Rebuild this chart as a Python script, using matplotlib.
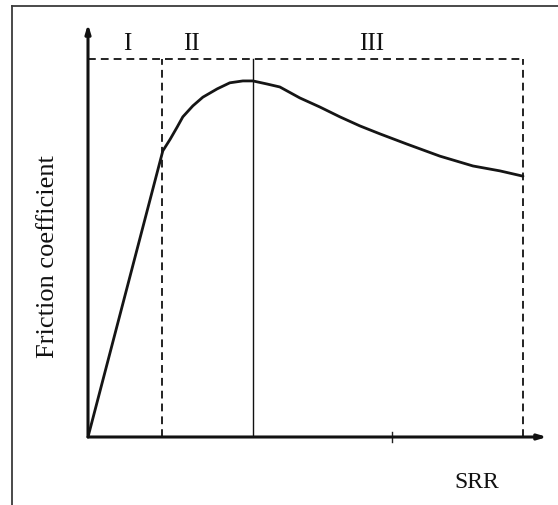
import matplotlib
matplotlib.use("Agg")
import matplotlib.pyplot as plt
from matplotlib.lines import Line2D

# Curve readings (SRR normalised 0..1, friction normalised to top dashed line = 1)
srr = [0.0, 0.172, 0.189, 0.205, 0.218, 0.241, 0.264, 0.297, 0.326, 0.356, 0.379,
       0.411, 0.441, 0.487, 0.533, 0.579, 0.625, 0.671, 0.733, 0.809, 0.885, 0.947, 1.0]
friction = [0.0, 0.757, 0.788, 0.820, 0.847, 0.876, 0.899, 0.921, 0.937, 0.942, 0.942,
            0.934, 0.926, 0.897, 0.873, 0.847, 0.823, 0.802, 0.775, 0.743, 0.717, 0.704, 0.690]

region_bounds = [0.170, 0.379, 1.0]   # I/II dashed, II/III solid, right dashed
region_labels = ["I", "II", "III"]
label_x = [0.090, 0.239, 0.653]
box_top = 1.0
x_tick = [0.699]

W, H = 558, 506
fig = plt.figure(figsize=(W / 100, H / 100), dpi=100)
fig.patch.set_facecolor("white")

# outer frame (open at right/bottom)
fig.add_artist(Line2D([12 / W, 12 / W], [1 - 7 / H, 0], transform=fig.transFigure,
                      color="#3a3a3a", lw=1.3))
fig.add_artist(Line2D([12 / W, 1], [1 - 7 / H, 1 - 7 / H], transform=fig.transFigure,
                      color="#3a3a3a", lw=1.3))

ax = fig.add_axes([88 / W, (H - 438) / H, (547 - 88) / W, (438 - 25) / H])
ax.set_xlim(0, 459 / 435)
ax.set_ylim(0, 413 / 378)
for s in ax.spines.values():
    s.set_visible(False)
ax.set_xticks([])
ax.set_yticks([])
ax.patch.set_alpha(0)

# axes with arrows
ax.annotate("", xy=(0, 413 / 378), xytext=(0, 0),
            arrowprops=dict(arrowstyle="-|>,head_length=0.5,head_width=0.15",
                            color="#111111", lw=2.2, shrinkA=0, shrinkB=0))
ax.annotate("", xy=(459 / 435, 0), xytext=(0, 0),
            arrowprops=dict(arrowstyle="-|>,head_length=0.5,head_width=0.15",
                            color="#111111", lw=2.2, shrinkA=0, shrinkB=0))

# tick mark on x-axis
for t in x_tick:
    ax.plot([t, t], [-0.012, 0.012], color="#222222", lw=1.0, clip_on=False)

dash = (0, (4, 2.6))
# dashed box
ax.plot([0, region_bounds[2]], [box_top, box_top], color="#222222", lw=1.4, linestyle=dash)
ax.plot([region_bounds[0], region_bounds[0]], [0, box_top], color="#222222", lw=1.4, linestyle=dash)
ax.plot([region_bounds[2], region_bounds[2]], [0, box_top], color="#222222", lw=1.4, linestyle=dash)
# solid boundary
ax.plot([region_bounds[1], region_bounds[1]], [0, box_top], color="#111111", lw=1.0)

# curve
ax.plot(srr, friction, color="#151515", lw=2.0, solid_capstyle="round", solid_joinstyle="round")

serif = ["Liberation Serif", "DejaVu Serif"]
for lx, lab in zip(label_x, region_labels):
    ax.text(lx, 1.042, lab, ha="center", va="center", fontsize=18, family=serif, color="#111111")

fig.text(48 / W, 1 - 257 / H, "Friction coefficient", rotation=90, ha="center", va="center",
         fontsize=19, family=serif, color="#111111")
fig.text(477 / W, 1 - 482 / H, "SRR", ha="center", va="center",
         fontsize=17, family=serif, color="#111111")

fig.savefig("out.png", dpi=100)
